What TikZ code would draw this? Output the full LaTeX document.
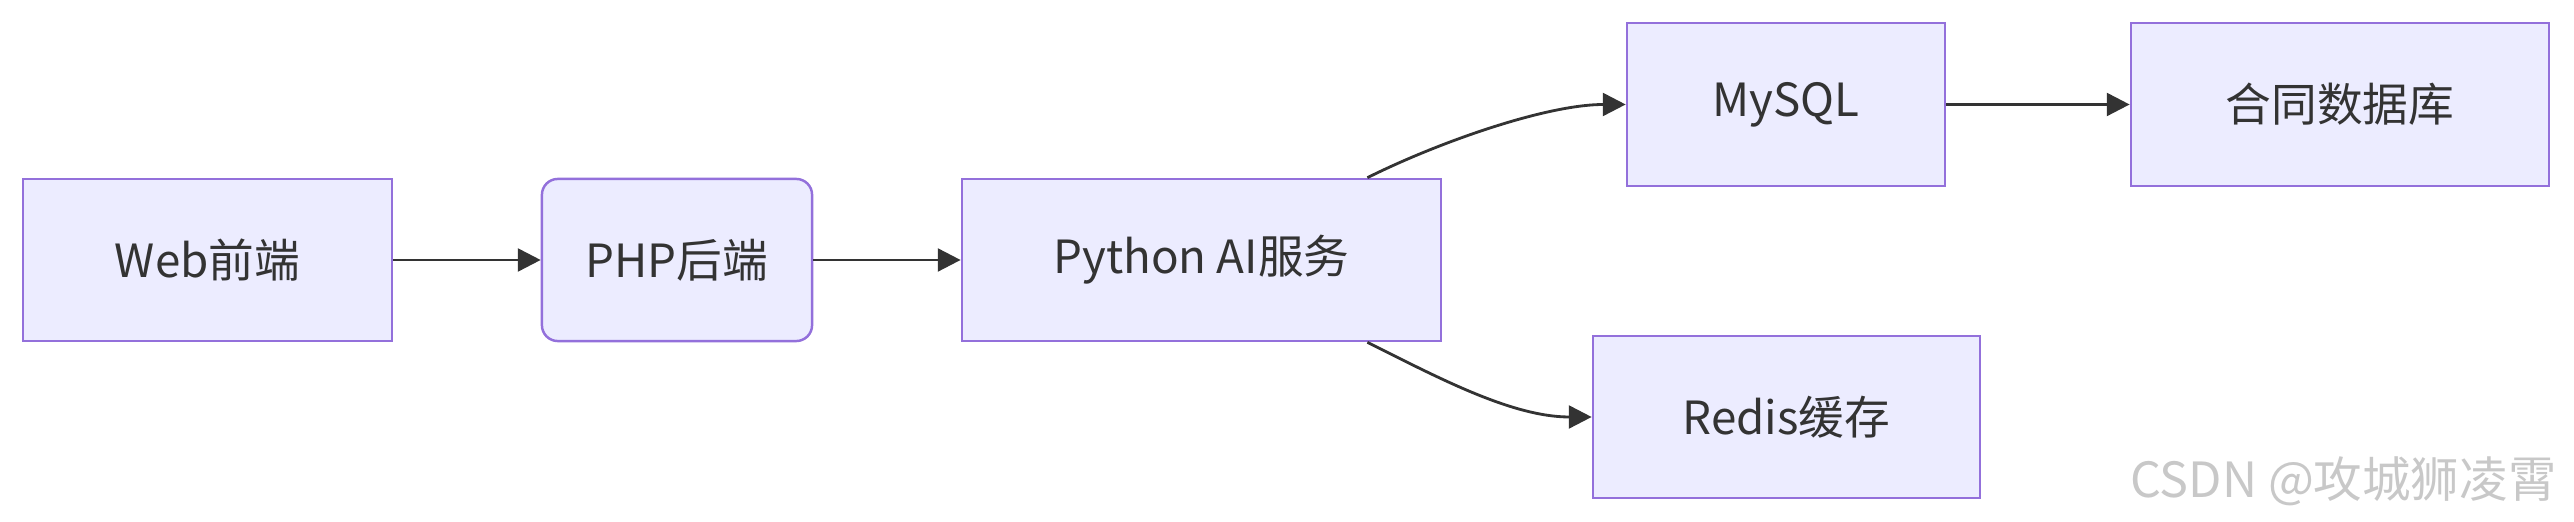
\documentclass[tikz,border=0pt]{standalone}
\usepackage{fontspec}
\setmainfont{Noto Sans CJK SC}
\usepackage{tikz}
\usetikzlibrary{positioning,arrows.meta}
\usepackage{xcolor}
\definecolor{boxfill}{HTML}{ECECFF}
\definecolor{boxline}{HTML}{9370DB}
\definecolor{ink}{HTML}{333333}
\definecolor{mark}{HTML}{C8C8C8}
\tikzset{box/.style={draw=boxline,fill=boxfill,line width=0.7pt,text=ink,
    font=\fontsize{13}{15}\selectfont,inner sep=0pt},
  rbox/.style={box,rounded corners=4.5pt},
  flow/.style={draw=ink,line width=0.8pt,-{Triangle[length=6.5pt,width=6.5pt]}}}

\begin{document}
\begin{tikzpicture}[x=0.01cm,y=-0.01cm]
    \useasboundingbox (0,0) rectangle (2574,522);
    \node[box,minimum width=369*0.1mm,minimum height=162*0.1mm] (web) at (207.5,260) {Web前端};
    \node[rbox,minimum width=270*0.1mm,minimum height=162*0.1mm] (php) at (677,260) {PHP后端};
    \node[box,minimum width=479*0.1mm,minimum height=162*0.1mm] (python) at (1201.5,260) {Python AI服务};
    \node[box,minimum width=318*0.1mm,minimum height=163*0.1mm] (mysql) at (1786,104.5) {MySQL};
    \node[box,minimum width=418*0.1mm,minimum height=163*0.1mm] (contract) at (2340,104.5) {合同数据库};
    \node[box,minimum width=387*0.1mm,minimum height=162*0.1mm] (redis) at (1786.5,417) {Redis缓存};
    \draw[flow] (web) -- (php);
    \draw[flow] (php) -- (python);
    \draw[flow] (python.north east)++(-75,0) .. controls +(70,-35) and +(-80,0) .. (mysql.west);
    \draw[flow] (python.south east)++(-75,0) .. controls +(70,35) and +(-80,0) .. (redis.west);
    \draw[flow] (mysql) -- (contract);
    \node[anchor=east,text=mark,font=\fontsize{13.8}{16}\selectfont] (wm) at (2569,481) {CSDN @攻城狮凌霄};
  \end{tikzpicture}
\end{document}
